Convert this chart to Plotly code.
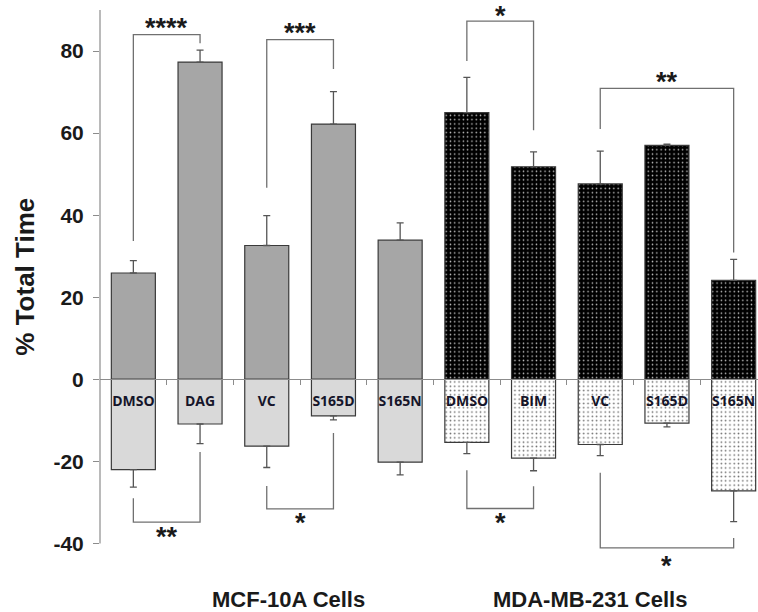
import plotly.graph_objects as go

# ---------------- data ----------------
mcf_labels = ["DMSO", "DAG", "VC", "S165D", "S165N"]
mda_labels = ["DMSO", "BIM", "VC", "S165D", "S165N"]

mcf_pos = [25.9, 77.3, 32.6, 62.2, 33.9]
mcf_pos_err = [3.0, 2.9, 7.3, 7.9, 4.2]
mcf_neg = [-22.0, -10.9, -16.3, -8.9, -20.2]
mcf_neg_err = [4.3, 4.8, 5.2, 1.0, 3.1]

mda_pos = [65.0, 51.8, 47.6, 57.0, 24.1]
mda_pos_err = [8.6, 3.6, 8.0, 0.3, 5.1]
mda_neg = [-15.4, -19.2, -15.9, -10.7, -27.2]
mda_neg_err = [2.7, 3.1, 2.7, 0.9, 7.5]

y_ticks = [-40, -20, 0, 20, 40, 60, 80]
y_tick_text = ["-40", "-20", "0", "20", "40", "60", "80"]
group_names = ["MCF-10A Cells", "MDA-MB-231 Cells"]

# significance brackets: left bar, right bar, left leg end, bracket level, right leg end, label, label y
brackets = [
    (0, 1, 33.7, 84.0, 81.9, "****", 85.5),
    (2, 3, 46.7, 82.8, 75.6, "***", 84.5),
    (5, 6, 77.6, 87.3, 60.7, "*", 88.5),
    (7, 9, 61.0, 70.9, 30.9, "**", 72.5),
    (0, 1, -29.0, -34.8, -17.7, "**", -38.5),
    (2, 3, -26.0, -31.6, -13.1, "*", -35.0),
    (5, 6, -22.2, -31.5, -26.1, "*", -35.0),
    (7, 9, -22.8, -41.1, -38.7, "*", -45.5),
]

# ---------------- figure ----------------
y_range = [-46, 90]
x_range = [-0.5, 9.365]
all_labels = mcf_labels + mda_labels
x_mcf = list(range(len(mcf_labels)))
x_mda = [len(mcf_labels) + i for i in range(len(mda_labels))]
x_all = x_mcf + x_mda
p0 = (0 - y_range[0]) / (y_range[1] - y_range[0])

edge = dict(color="#3a3a3a", width=1.2)
err_col = "#555555"

fig = go.Figure()
fig.add_trace(go.Bar(
    x=x_mcf, y=mcf_pos,
    marker=dict(color="#a6a6a6", line=edge),
    error_y=dict(type="data", array=mcf_pos_err, arrayminus=[0] * 5, symmetric=False,
                 color=err_col, thickness=1.3, width=3.5),
))
fig.add_trace(go.Bar(
    x=x_mcf, y=mcf_neg,
    marker=dict(color="#d9d9d9", line=edge),
    error_y=dict(type="data", array=[0] * 5, arrayminus=mcf_neg_err, symmetric=False,
                 color=err_col, thickness=1.3, width=3.5),
))
fig.add_trace(go.Bar(
    x=x_mda, y=mda_pos,
    marker=dict(color="black", line=edge,
                pattern=dict(shape=".", fgcolor="#c8c8c8", bgcolor="black",
                             size=4.3, solidity=0.1, fillmode="replace")),
    error_y=dict(type="data", array=mda_pos_err, arrayminus=[0] * 5, symmetric=False,
                 color=err_col, thickness=1.3, width=3.5),
))
fig.add_trace(go.Bar(
    x=x_mda, y=mda_neg,
    marker=dict(color="white", line=edge,
                pattern=dict(shape=".", fgcolor="#6a6a6a", bgcolor="white",
                             size=4.3, solidity=0.12, fillmode="replace")),
    error_y=dict(type="data", array=[0] * 5, arrayminus=mda_neg_err, symmetric=False,
                 color=err_col, thickness=1.3, width=3.5),
))

# brackets
for (a, b, l_end, lvl, r_end, lab, ly) in brackets:
    fig.add_trace(go.Scatter(
        x=[x_all[a], x_all[a], x_all[b], x_all[b]],
        y=[l_end, lvl, lvl, r_end],
        mode="lines", line=dict(color="#707070", width=1.3),
        hoverinfo="skip",
    ))
    fig.add_annotation(
        x=(x_all[a] + x_all[b]) / 2, y=ly, xref="x", yref="y",
        text=lab, showarrow=False,
        font=dict(family="Liberation Sans", size=27, color="#1a1a1a"),
        xanchor="center", yanchor="middle",
    )

# y-axis line (stops at -40)
fig.add_shape(type="line", xref="paper", yref="y", x0=0, x1=0,
              y0=y_ticks[0], y1=y_range[1], line=dict(color="#8c8c8c", width=1.2))

# y title
fig.add_annotation(
    x=-0.114, y=25, xref="paper", yref="y", text="% Total Time", textangle=-90,
    showarrow=False, font=dict(family="Liberation Sans", size=26, color="#1a1a1a"),
    xanchor="center", yanchor="middle",
)
# group labels
fig.add_annotation(x=2.33, y=-0.056, xref="x", yref="paper", text=group_names[0],
                   showarrow=False, font=dict(family="Liberation Sans", size=22, color="#1a1a1a"),
                   xanchor="center", yanchor="middle")
fig.add_annotation(x=6.84, y=-0.056, xref="x", yref="paper", text=group_names[1],
                   showarrow=False, font=dict(family="Liberation Sans", size=22, color="#1a1a1a"),
                   xanchor="center", yanchor="middle")

fig.update_layout(
    width=758, height=612,
    margin=dict(l=100, r=0, t=10, b=44),
    paper_bgcolor="white", plot_bgcolor="white",
    barmode="relative", bargap=0.34,
    showlegend=False,
    xaxis=dict(range=x_range, anchor="free", position=p0, showline=True,
               linecolor="#8c8c8c", linewidth=1.2, ticks="outside", ticklen=5,
               tickcolor="#8c8c8c", tickvals=[i + 0.5 for i in x_all[:-1]],
               showticklabels=False, showgrid=False, zeroline=False),
    xaxis2=dict(matches="x", overlaying="x", anchor="free", position=p0,
                tickvals=x_all, ticktext=all_labels, ticks="", showline=False,
                showgrid=False, zeroline=False, ticklabelstandoff=12,
                tickfont=dict(family="Open Sans", size=14, color="#15152a", weight="bold")),
    yaxis=dict(range=y_range, tickvals=y_ticks, ticktext=y_tick_text, ticks="outside", ticklen=6,
               tickcolor="#8c8c8c", showline=False, showgrid=False, zeroline=False,
               ticklabelstandoff=5,
               tickfont=dict(family="Liberation Sans", size=21, color="#1a1a1a", weight="bold")),
)
# invisible trace on xaxis2 so that axis is drawn
fig.add_trace(go.Scatter(x=[x_all[0]], y=[0], xaxis="x2", mode="markers",
                         marker=dict(opacity=0), hoverinfo="skip"))
fig.update_annotations(font_weight="bold")

# remove the browser's default 8px body margin so the figure sits at the page corner
fig.write_html("out.html", config={"displayModeBar": False},
               post_script="document.body.style.margin='0px';")
